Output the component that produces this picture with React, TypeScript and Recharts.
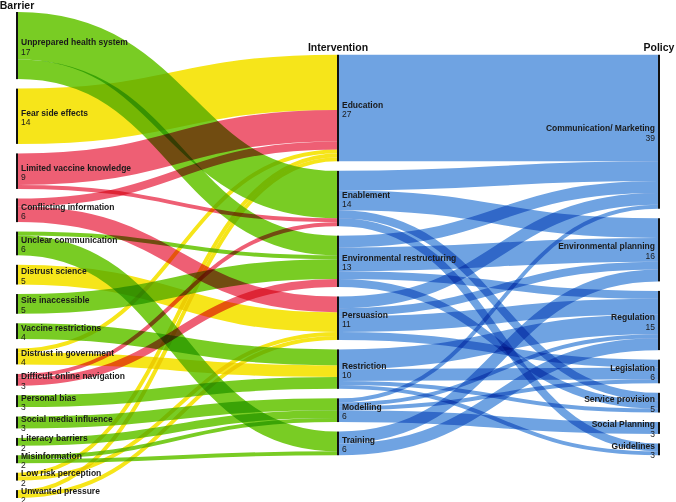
import { Sankey } from 'recharts'

// column contents, top to bottom
const barriers = [
  'Unprepared health system',
  'Fear side effects',
  'Limited vaccine knowledge',
  'Conflicting information',
  'Unclear communication',
  'Distrust science',
  'Site inaccessible',
  'Vaccine restrictions',
  'Distrust in government',
  'Difficult online navigation',
  'Personal bias',
  'Social media influence',
  'Literacy barriers',
  'Misinformation',
  'Low risk perception',
  'Unwanted pressure',
]
// COM-B group of each barrier (drives the flow colour)
const barrierGroup = [
  'opportunity', 'motivation', 'capability', 'capability', 'opportunity', 'motivation',
  'opportunity', 'opportunity', 'motivation', 'capability', 'opportunity', 'opportunity',
  'opportunity', 'opportunity', 'motivation', 'motivation',
]
const interventions = [
  'Education',
  'Enablement',
  'Environmental restructuring',
  'Persuasion',
  'Restriction',
  'Modelling',
  'Training',
]
const policies = [
  'Communication/ Marketing',
  'Environmental planning',
  'Regulation',
  'Legislation',
  'Service provision',
  'Social Planning',
  'Guidelines',
]
const columnTitles = ['Barrier', 'Intervention', 'Policy']

// barrier -> intervention
const barrierFlows: [string, string, number][] = [
  ['Unprepared health system', 'Enablement', 12],
  ['Unprepared health system', 'Environmental restructuring', 5],
  ['Fear side effects', 'Education', 14],
  ['Limited vaccine knowledge', 'Education', 8],
  ['Limited vaccine knowledge', 'Enablement', 1],
  ['Conflicting information', 'Education', 2],
  ['Conflicting information', 'Persuasion', 4],
  ['Unclear communication', 'Environmental restructuring', 1],
  ['Unclear communication', 'Training', 5],
  ['Distrust science', 'Persuasion', 5],
  ['Site inaccessible', 'Environmental restructuring', 5],
  ['Vaccine restrictions', 'Restriction', 4],
  ['Distrust in government', 'Education', 1],
  ['Distrust in government', 'Restriction', 3],
  ['Difficult online navigation', 'Enablement', 1],
  ['Difficult online navigation', 'Environmental restructuring', 2],
  ['Personal bias', 'Restriction', 3],
  ['Social media influence', 'Modelling', 3],
  ['Literacy barriers', 'Modelling', 2],
  ['Misinformation', 'Modelling', 1],
  ['Misinformation', 'Training', 1],
  ['Low risk perception', 'Education', 1],
  ['Low risk perception', 'Persuasion', 1],
  ['Unwanted pressure', 'Education', 1],
  ['Unwanted pressure', 'Persuasion', 1],
]

// intervention -> policy
const interventionFlows: [string, string, number][] = [
  ['Education', 'Communication/ Marketing', 27],
  ['Enablement', 'Communication/ Marketing', 5],
  ['Enablement', 'Environmental planning', 5],
  ['Enablement', 'Service provision', 2],
  ['Enablement', 'Guidelines', 2],
  ['Environmental restructuring', 'Communication/ Marketing', 3],
  ['Environmental restructuring', 'Environmental planning', 6],
  ['Environmental restructuring', 'Regulation', 2],
  ['Environmental restructuring', 'Service provision', 2],
  ['Persuasion', 'Communication/ Marketing', 3],
  ['Persuasion', 'Environmental planning', 2],
  ['Persuasion', 'Regulation', 4],
  ['Persuasion', 'Legislation', 2],
  ['Restriction', 'Regulation', 5],
  ['Restriction', 'Legislation', 3],
  ['Restriction', 'Service provision', 1],
  ['Restriction', 'Guidelines', 1],
  ['Modelling', 'Communication/ Marketing', 1],
  ['Modelling', 'Regulation', 1],
  ['Modelling', 'Legislation', 1],
  ['Modelling', 'Social Planning', 3],
  ['Training', 'Environmental planning', 3],
  ['Training', 'Regulation', 3],
]

const groupColor: Record<string, string> = {
  capability: '#ee5f74',
  opportunity: '#79cc24',
  motivation: '#f6e51a',
}
const policyFlowColor = '#6fa3e2'

const nodeNames = [...barriers, ...interventions, ...policies]
const data = {
  nodes: nodeNames.map((name) => ({ name })),
  links: [...barrierFlows, ...interventionFlows].map(([s, t, v]) => ({
    source: nodeNames.indexOf(s),
    target: nodeNames.indexOf(t),
    value: v,
  })),
}

const PAD = 9.5
const FONT = '"Liberation Sans", Arial, Helvetica, sans-serif'
const columnCounts = [barriers.length, interventions.length, policies.length]
const firstIndex = [0, barriers.length, barriers.length + interventions.length]
const maxCount = Math.max(...columnCounts)

const depthOf = (i: number) => (i < firstIndex[1] ? 0 : i < firstIndex[2] ? 1 : 2)
// centre the shorter columns against the tallest one
const shift = (depth: number) => ((maxCount - columnCounts[depth]) * PAD) / 2
const indexOf = (n: any) => (typeof n === 'number' ? n : nodeNames.indexOf(n.name))

function FlowNode(props: any) {
  const { x, y, width, height, index, payload } = props
  const depth = depthOf(index)
  const top = y + shift(depth)
  const cy = top + height / 2
  const right = depth === 2
  const tx = right ? x - 3 : x + width + 3
  const anchor = right ? 'end' : 'start'
  const col = firstIndex.indexOf(index)
  return (
    <g fontFamily={FONT}>
      <rect x={x} y={top} width={width} height={height} fill="#111" />
      <text x={tx} y={cy - 0.5} textAnchor={anchor} fontSize={8.5} fontWeight="bold" fill="#1a1a1a">
        {payload.name}
      </text>
      <text x={tx} y={cy + 9} textAnchor={anchor} fontSize={8.5} fill="#1a1a1a">
        {payload.value}
      </text>
      {col >= 0 && (
        <text x={x + width / 2} y={top - 3.5} textAnchor="middle" fontSize={10.5} fontWeight="bold" fill="#111">
          {columnTitles[col]}
        </text>
      )}
    </g>
  )
}

function FlowLink(props: any) {
  const { sourceX, targetX, sourceY, targetY, sourceControlX, targetControlX, linkWidth, payload } = props
  const s = indexOf(payload.source)
  const t = indexOf(payload.target)
  const sy = sourceY + shift(depthOf(s))
  const ty = targetY + shift(depthOf(t))
  const color = depthOf(s) === 0 ? groupColor[barrierGroup[s]] : policyFlowColor
  return (
    <path
      d={`M${sourceX},${sy}C${sourceControlX},${sy} ${targetControlX},${ty} ${targetX},${ty}`}
      fill="none"
      stroke={color}
      strokeWidth={linkWidth}
      style={{ mixBlendMode: 'multiply' }}
    />
  )
}

export default function App() {
  return (
    <div style={{ position: 'absolute', left: 0, top: 0, width: 676, height: 502, background: '#fff' }}>
      <Sankey
        width={676}
        height={502}
        data={data}
        nodeWidth={2}
        nodePadding={PAD}
        iterations={0}
        sort={false}
        margin={{ top: 12, right: 16, bottom: 4, left: 16 }}
        node={FlowNode}
        link={FlowLink}
      />
    </div>
  )
}
